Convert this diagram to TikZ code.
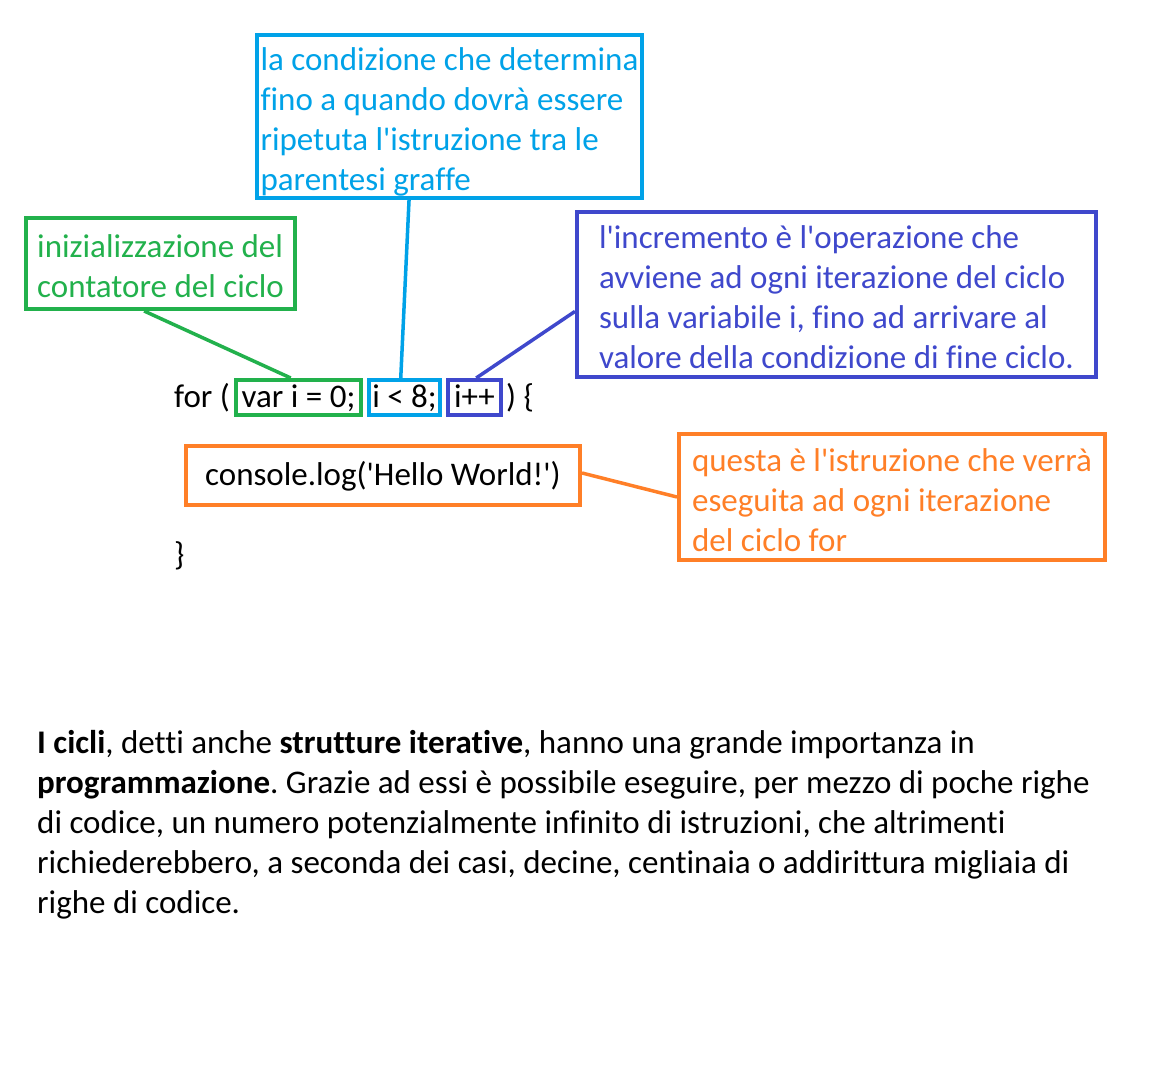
\documentclass[tikz,border=0pt]{standalone}
\usepackage{fontspec}
\setmainfont{Carlito}[Ligatures={TeXOff,CommonOff}]
\usetikzlibrary{positioning, calc}
\definecolor{PG}{RGB}{34,177,76}
\definecolor{PC}{RGB}{0,162,232}
\definecolor{PB}{RGB}{63,72,204}
\definecolor{PO}{RGB}{255,127,39}
\newcommand\txtsize{\fontsize{33}{40}\selectfont}
\newcommand\upstrut{\rule{0pt}{34pt}}
\newcommand\dnstrut{\rule[-6pt]{0pt}{6pt}}
\frenchspacing

\begin{document}
\begin{tikzpicture}[x=1pt, y=-1pt,
  lines/.style={align=left, font=\txtsize, inner sep=0pt},
  note/.style={lines, draw=#1, text=#1, line width=4pt},
  code/.style={font=\txtsize, inner sep=0pt,
               text height=24pt, text depth=5pt},
  tag/.style={code, draw=#1, line width=4pt, minimum height=35pt},
  link/.style={draw=#1, line width=3.5pt}
]
\fill[white] (0,0) rectangle (1152,1079);
\useasboundingbox (0,0) rectangle (1152,1079);

% explanations
\node[note=PC, minimum width=385pt, minimum height=163pt] (cond) at (449.5,116.5)
  {\upstrut la condizione che determina\\fino a quando dovrà essere\\ripetuta l'istruzione tra le\\parentesi graffe\dnstrut};
\node[note=PG, minimum width=269pt, minimum height=91pt]  (init) at (160.5,263.5)
  {\upstrut inizializzazione del\\contatore del ciclo\dnstrut};
\node[note=PB, minimum width=519pt, minimum height=165pt] (incr) at (836.5,294.5)
  {\upstrut l'incremento è l'operazione che\\avviene ad ogni iterazione del ciclo\\sulla variabile i, fino ad arrivare al\\valore della condizione di fine ciclo.\dnstrut};
\node[note=PO, minimum width=426pt, minimum height=126pt] (body) at (892,497)
  {\upstrut questa è l'istruzione che verrà\\eseguita ad ogni iterazione\\del ciclo for\dnstrut};

% the loop
\node[code, anchor=west]            (forkw)   at (174,397.5) {for (};
\node[tag=PG, minimum width=125pt]  (initc)   at (298.5,397.5) {var i = 0;};
\node[tag=PC, minimum width=71pt]   (condc)   at (404.5,397.5) {i < 8;};
\node[tag=PB, minimum width=53pt]   (incrc)   at (474.5,397.5) {i++};
\node[code, anchor=west]            (openkw)  at (506,397.5) {) \{};
\node[tag=PO, minimum width=394pt, minimum height=59pt] (log) at (383,475.5)
  {console.log('Hello World!')};
\node[code, anchor=west]            (closekw) at (174,556) {\}};

\draw[link=PG] ($(init.south west)!.44!(init.south east)$) -- ($(initc.north west)!.44!(initc.north east)$);
\draw[link=PC] ($(cond.south west)!.396!(cond.south east)$) -- ($(condc.north west)!.45!(condc.north east)$);
\draw[link=PB] ($(incr.north west)!.6!(incr.south west)$) -- ($(incrc.north west)!.53!(incrc.north east)$);
\draw[link=PO] ($(log.north east)!.46!(log.south east)$) -- (body.west);

% text below
\node[lines, anchor=north west] (para) at (37,719)
  {\upstrut\textbf{I cicli}, detti anche \textbf{strutture iterative}, hanno una grande importanza in\\
   \textbf{programmazione}. Grazie ad essi è possibile eseguire, per mezzo di poche righe\\
   di codice, un numero potenzialmente infinito di istruzioni, che altrimenti\\
   richiederebbero, a seconda dei casi, decine, centinaia o addirittura migliaia di\\
   righe di codice.\dnstrut};
\end{tikzpicture}
\end{document}
